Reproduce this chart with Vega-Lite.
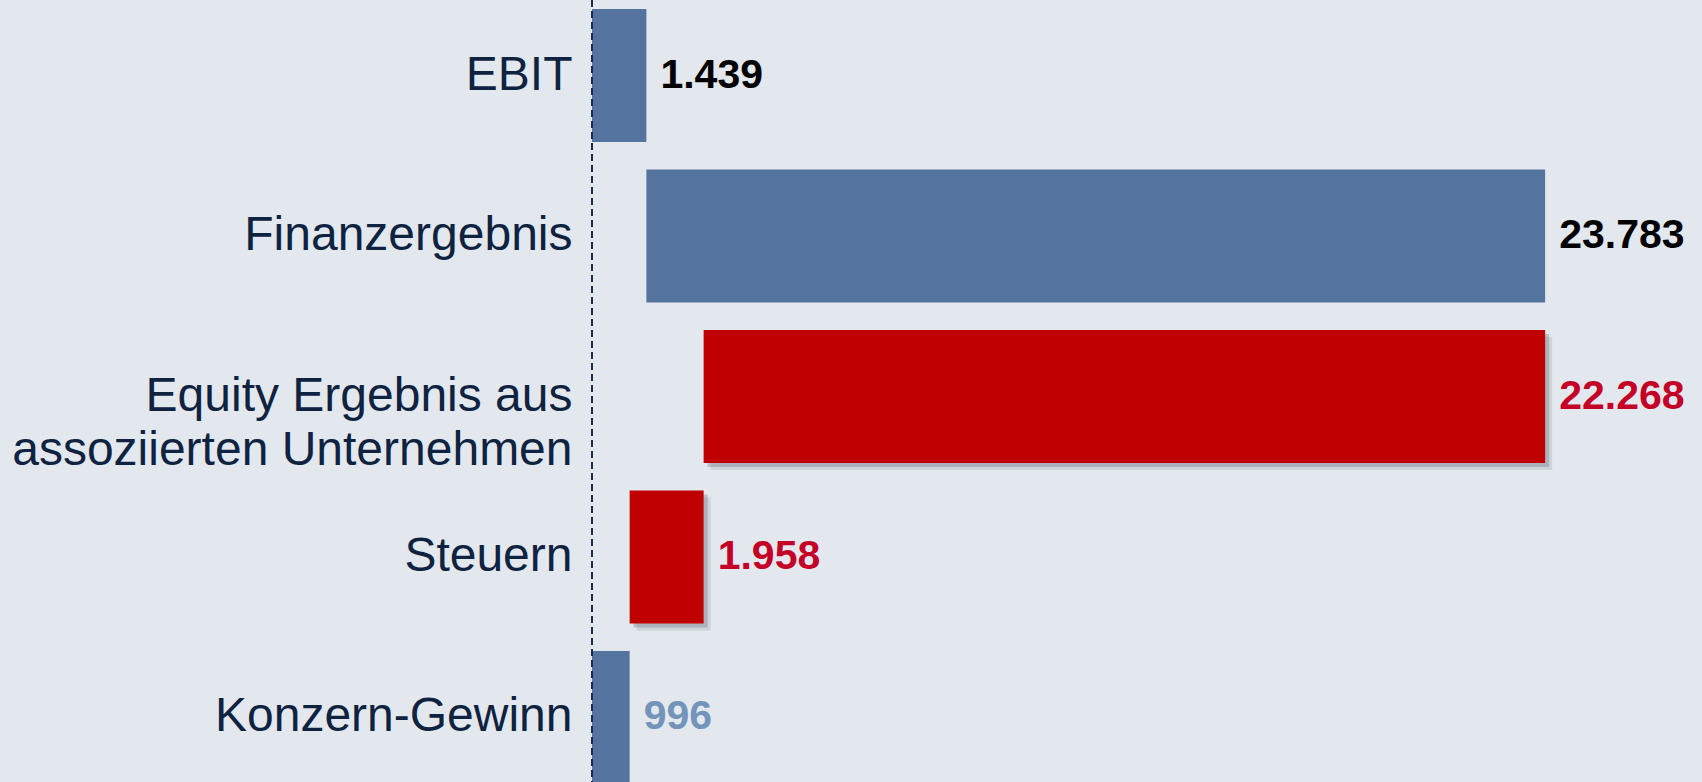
{
  "$schema": "https://vega.github.io/schema/vega-lite/v6.json",
  "autosize": "none",
  "width": 1110,
  "height": 793,
  "padding": {"left": 592, "top": 0, "right": 0, "bottom": 0},
  "background": "#e3e8ef",
  "config": {"view": {"stroke": null}, "font": "Liberation Sans"},
  "data": {
    "values": [
      {"cat": "EBIT", "lo": 0, "hi": 1439, "label": "1.439", "kind": "pos", "lc": "black"},
      {"cat": "Finanzergebnis", "lo": 1439, "hi": 25222, "label": "23.783", "kind": "pos", "lc": "black"},
      {"cat": "Equity Ergebnis aus|assoziierten Unternehmen", "lo": 2954, "hi": 25222, "label": "22.268", "kind": "neg", "lc": "red"},
      {"cat": "Steuern", "lo": 996, "hi": 2954, "label": "1.958", "kind": "neg", "lc": "red"},
      {"cat": "Konzern-Gewinn", "lo": 0, "hi": 996, "label": "996", "kind": "pos", "lc": "light"}
    ]
  },
  "encoding": {
    "y": {
      "field": "cat",
      "type": "nominal",
      "sort": ["EBIT", "Finanzergebnis", "Equity Ergebnis aus|assoziierten Unternehmen", "Steuern", "Konzern-Gewinn"],
      "scale": {"paddingInner": 0.1713, "paddingOuter": 0.0561},
      "axis": {
        "title": null,
        "domain": false,
        "ticks": false,
        "labelPadding": 20,
        "labelFontSize": 48,
        "labelFont": "Liberation Sans",
        "labelColor": "#0f2341",
        "labelLineHeight": 54,
        "labelLimit": 700,
        "labelExpr": "split(datum.label, '|')"
      }
    }
  },
  "layer": [
    {
      "transform": [{"filter": "datum.kind == 'neg'"}],
      "mark": {"type": "bar", "color": "#5a6270", "opacity": 0.15, "xOffset": 7, "x2Offset": 7, "yOffset": 7, "y2Offset": 7},
      "encoding": {
        "x": {"field": "lo", "type": "quantitative", "scale": {"domain": [0, 29373], "nice": false, "zero": false}, "axis": null},
        "x2": {"field": "hi"}
      }
    },
    {
      "transform": [{"filter": "datum.kind == 'neg'"}],
      "mark": {"type": "bar", "color": "#5a6270", "opacity": 0.3, "xOffset": 4, "x2Offset": 4, "yOffset": 4, "y2Offset": 4},
      "encoding": {
        "x": {"field": "lo", "type": "quantitative"},
        "x2": {"field": "hi"}
      }
    },
    {
      "mark": {"type": "bar"},
      "encoding": {
        "x": {"field": "lo", "type": "quantitative"},
        "x2": {"field": "hi"},
        "color": {
          "field": "kind",
          "type": "nominal",
          "scale": {"domain": ["pos", "neg"], "range": ["#54739f", "#c00000"]},
          "legend": null
        }
      }
    },
    {
      "mark": {"type": "rule", "strokeDash": [7, 4], "strokeWidth": 1.8, "color": "#1c2b4c"},
      "encoding": {"x": {"datum": 0, "type": "quantitative"}, "y": null}
    },
    {
      "mark": {"type": "text", "align": "left", "baseline": "middle", "dx": 14, "fontSize": 41, "fontWeight": "bold", "font": "Liberation Sans"},
      "encoding": {
        "x": {"field": "hi", "type": "quantitative"},
        "text": {"field": "label"},
        "color": {
          "field": "lc",
          "type": "nominal",
          "scale": {"domain": ["black", "red", "light"], "range": ["#000000", "#c40026", "#7393b9"]},
          "legend": null
        }
      }
    }
  ],
  "resolve": {"scale": {"color": "independent"}}
}
